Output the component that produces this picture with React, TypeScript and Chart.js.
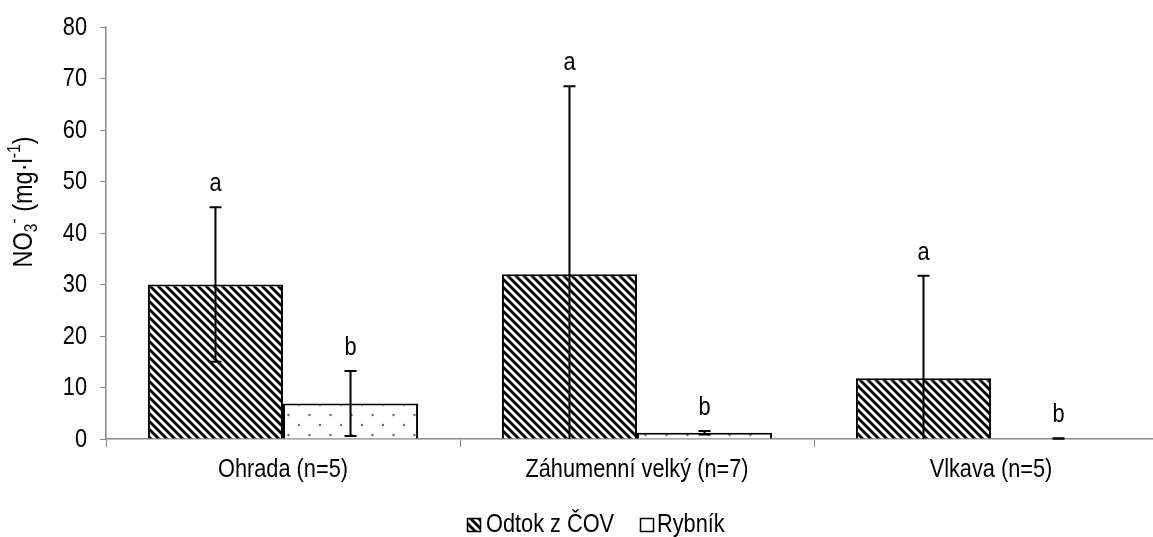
import React, { useEffect, useRef } from "react";
import { Chart, registerables } from "chart.js";

Chart.register(...registerables);

// Sites and measured nitrate values (mean ± SD)
const sites = ["Ohrada (n=5)", "Záhumenní velký (n=7)", "Vlkava (n=5)"];
const seriesNames = ["Odtok z ČOV", "Rybník"];
const odtokMean = [30, 32, 11.8];
const odtokSd = [15, 36.5, 19.9];
const rybnikMean = [6.9, 1.2, 0.1];
const rybnikSd = [6.3, 0.35, 0.05];
const odtokLetters = ["a", "a", "a"];
const rybnikLetters = ["b", "b", "b"];
const yTicks = [0, 10, 20, 30, 40, 50, 60, 70, 80];

const FONT = "'Liberation Sans', Arial, sans-serif";
const FS = 25;
const NARROW = 0.87; // horizontal squeeze giving a narrow sans face
const AXIS_GREY = "#8a8a8a";

function narrowText(
  ctx: CanvasRenderingContext2D,
  text: string,
  x: number,
  y: number,
  size: number,
  align: CanvasTextAlign,
  baseline: CanvasTextBaseline
) {
  ctx.save();
  ctx.font = `${size}px ${FONT}`;
  ctx.textAlign = align;
  ctx.textBaseline = baseline;
  ctx.fillStyle = "#000";
  ctx.translate(x, y);
  ctx.scale(NARROW, 1);
  ctx.fillText(text, 0, 0);
  ctx.restore();
}

function makeHatch(): CanvasPattern | string {
  const s = 8;
  const c = document.createElement("canvas");
  c.width = s;
  c.height = s;
  const g = c.getContext("2d");
  if (!g) return "#444";
  g.fillStyle = "#ffffff";
  g.fillRect(0, 0, s, s);
  g.strokeStyle = "#000000";
  g.lineWidth = s / (2 * Math.SQRT2);
  for (const o of [-s, 0, s]) {
    g.beginPath();
    g.moveTo(o - 1, -1);
    g.lineTo(o + s + 1, s + 1);
    g.stroke();
  }
  const p = g.createPattern(c, "repeat");
  return p || "#444";
}

function makeDots(): CanvasPattern | string {
  const w = 21;
  const h = 20;
  const c = document.createElement("canvas");
  c.width = w;
  c.height = h;
  const g = c.getContext("2d");
  if (!g) return "#fff";
  g.fillStyle = "#ffffff";
  g.fillRect(0, 0, w, h);
  g.fillStyle = "#6a6a6a";
  g.beginPath();
  g.arc(5, 5, 1.2, 0, Math.PI * 2);
  g.arc(15.5, 15, 1.2, 0, Math.PI * 2);
  g.fill();
  const p = g.createPattern(c, "repeat");
  return p || "#fff";
}

export default function App() {
  const ref = useRef<HTMLCanvasElement | null>(null);

  useEffect(() => {
    const canvas = ref.current;
    if (!canvas) return;
    const hatch = makeHatch();
    const dots = makeDots();

    const means = [odtokMean, rybnikMean];
    const sds = [odtokSd, rybnikSd];
    const letters = [odtokLetters, rybnikLetters];

    const errorBars = {
      id: "errorBars",
      afterDatasetsDraw(chart: any) {
        const ctx = chart.ctx;
        const y = chart.scales.y;
        chart.data.datasets.forEach((_: any, di: number) => {
          const meta = chart.getDatasetMeta(di);
          meta.data.forEach((bar: any, i: number) => {
            const m = means[di][i];
            const sd = sds[di][i];
            const x = bar.x;
            const top = y.getPixelForValue(m + sd);
            const lowVal = m - sd;
            const bottom = y.getPixelForValue(Math.max(0, lowVal));
            ctx.save();
            ctx.strokeStyle = "#000";
            ctx.lineWidth = 2;
            ctx.beginPath();
            ctx.moveTo(x, top);
            ctx.lineTo(x, bottom);
            ctx.moveTo(x - 6, top);
            ctx.lineTo(x + 6, top);
            if (lowVal > 0) {
              ctx.moveTo(x - 6, bottom);
              ctx.lineTo(x + 6, bottom);
            }
            ctx.stroke();
            ctx.restore();
            narrowText(ctx, letters[di][i], x, top - 16, FS, "center", "alphabetic");
          });
        });
      },
    };

    const extras = {
      id: "extras",
      afterDraw(chart: any) {
        const ctx = chart.ctx;
        const xs = chart.scales.x;
        const ys = chart.scales.y;

        // Tick labels
        yTicks.forEach((v) => {
          narrowText(ctx, String(v), 87, ys.getPixelForValue(v) + 1, FS, "right", "middle");
        });
        sites.forEach((s, i) => {
          narrowText(ctx, s, xs.getPixelForValue(i), 470, FS, "center", "middle");
        });

        // Rotated y-axis title: NO3- (mg·l-1)
        ctx.save();
        const parts: [string, number, number][] = [
          ["NO", 27, 0],
          ["3", 18, 7],
          ["-", 18, -10],
          [" (mg·l", 27, 0],
          ["-1", 18, -10],
          [")", 27, 0],
        ];
        let total = 0;
        for (const [t, size] of parts) {
          ctx.font = `${size}px ${FONT}`;
          total += ctx.measureText(t).width;
        }
        ctx.translate(25, 202);
        ctx.rotate(-Math.PI / 2);
        ctx.scale(NARROW, 1);
        ctx.fillStyle = "#000";
        ctx.textBaseline = "middle";
        ctx.textAlign = "left";
        let cx = -total / 2;
        for (const [t, size, dy] of parts) {
          ctx.font = `${size}px ${FONT}`;
          ctx.fillText(t, cx, dy);
          cx += ctx.measureText(t).width;
        }
        ctx.restore();

        // Legend
        const fills = [hatch, "#ffffff"];
        const boxX = [467, 640];
        const textX = [486, 657];
        seriesNames.forEach((name, i) => {
          ctx.save();
          ctx.fillStyle = fills[i] as any;
          ctx.fillRect(boxX[i], 518, 14, 14);
          ctx.strokeStyle = "#000";
          ctx.lineWidth = 1.5;
          ctx.strokeRect(boxX[i] + 0.5, 518.5, 13, 13);
          ctx.restore();
          narrowText(ctx, name, textX[i], 525, FS, "left", "middle");
        });
      },
    };

    const chart = new Chart(canvas, {
      type: "bar",
      data: {
        labels: sites,
        datasets: [
          {
            label: seriesNames[0],
            data: odtokMean,
            backgroundColor: hatch as any,
            borderColor: "#000",
            borderWidth: 2,
            categoryPercentage: 0.763,
            barPercentage: 1,
          },
          {
            label: seriesNames[1],
            data: rybnikMean,
            backgroundColor: dots as any,
            borderColor: "#000",
            borderWidth: 2,
            categoryPercentage: 0.763,
            barPercentage: 1,
          },
        ],
      },
      options: {
        responsive: false,
        animation: false,
        layout: { padding: { left: 0, right: 12, top: 27, bottom: 48 } },
        plugins: {
          legend: { display: false },
          tooltip: { enabled: false },
        },
        scales: {
          x: {
            grid: {
              drawOnChartArea: false,
              drawTicks: true,
              tickLength: 8,
              color: AXIS_GREY,
              offset: true,
            },
            border: { color: AXIS_GREY, width: 1.5 },
            ticks: { display: false, autoSkip: false },
            afterFit(scale: any) {
              scale.height = 50;
            },
          },
          y: {
            min: 0,
            max: 80,
            afterBuildTicks(scale: any) {
              scale.ticks = yTicks.map((v) => ({ value: v }));
            },
            grid: {
              drawOnChartArea: false,
              drawTicks: true,
              tickLength: 6,
              color: AXIS_GREY,
            },
            border: { color: AXIS_GREY, width: 1.5 },
            ticks: { display: false },
            afterFit(scale: any) {
              scale.width = 106;
            },
          },
        },
      },
      plugins: [errorBars, extras],
    });

    return () => chart.destroy();
  }, []);

  return (
    <div
      style={{
        position: "fixed",
        left: 0,
        top: 0,
        width: 1153,
        height: 537,
        overflow: "hidden",
        background: "#fff",
      }}
    >
      <canvas ref={ref} width={1180} height={537} style={{ width: 1180, height: 537, display: "block" }} />
    </div>
  );
}
